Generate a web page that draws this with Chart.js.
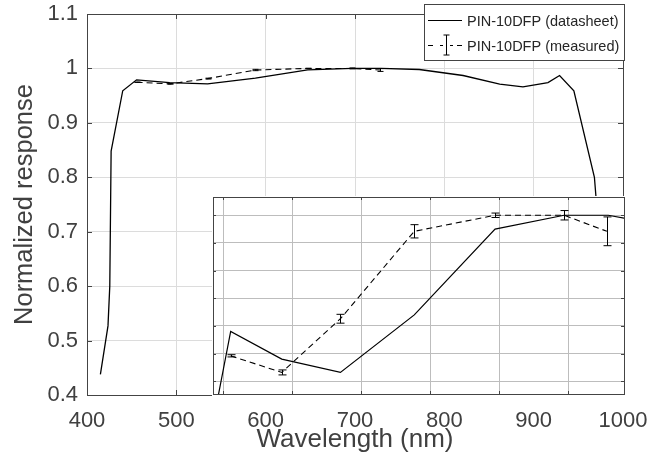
<!DOCTYPE html>
<html>
<head>
<meta charset="utf-8">
<script src="https://cdn.jsdelivr.net/npm/chart.js@4.4.1/dist/chart.umd.min.js"></script>
<style>
  body { margin: 0; background: #fff; }
  #wrap { position: relative; width: 672px; height: 463px; }
  #inset { position: absolute; left: 212px; top: 196px; width: 414px; height: 200px; background: #fff; }
</style>
</head>
<body>
<div id="wrap">
  <canvas id="mainChart" width="672" height="463"></canvas>
  <div id="inset"><canvas id="insetChart" width="414" height="200"></canvas></div>
</div>
<script>
// Datasheet response curve
const sheetWl = [415, 423.5, 425.5, 427, 440, 455.5, 492.5, 535, 588.5, 647, 697, 729, 772, 821, 862, 888, 916, 929, 945, 968, 985];
const sheetResp = [0.438, 0.527, 0.60, 0.848, 0.959, 0.979, 0.974, 0.9716, 0.982, 0.9975, 1.0, 1.0, 0.998, 0.987, 0.971, 0.966, 0.974, 0.987, 0.959, 0.80, 0.45];

// Measured points with error
const measWl = [455.5, 492.5, 535, 588.5, 647, 697, 728];
const measResp = [0.9746, 0.9716, 0.9813, 0.9971, 1.0, 1.0, 0.9971];
const measErr = [0.0002, 0.00045, 0.0008, 0.0012, 0.0004, 0.00085, 0.0026];

// Tick positions
const xTicks = [400, 500, 600, 700, 800, 900, 1000];
const yTicks = [0.4, 0.5, 0.6, 0.7, 0.8, 0.9, 1.0, 1.1];
const insetXTicks = [450, 500, 550, 600, 650, 700];
const insetYTicks = [0.97, 0.975, 0.98, 0.985, 0.99, 0.995, 1.0];

const legendLabels = ['PIN-10DFP (datasheet)', 'PIN-10DFP (measured)'];

const FONT = "'Liberation Sans', Arial, Helvetica, sans-serif";
const TEXT = '#404040';

const toPoints = (xs, ys) => xs.map((v, i) => ({x: v, y: ys[i]}));

// box around the axes plus inward tick marks
const boxPlugin = {
    id: 'box',
    afterDraw(chart, args, opts) {
        const {ctx, chartArea: a, scales} = chart;
        ctx.save();
        ctx.strokeStyle = opts.color;
        ctx.lineWidth = 1;
        const len = opts.tick;
        ctx.beginPath();
        opts.xTicks.forEach(v => {
            const px = Math.round(scales.x.getPixelForValue(v)) + 0.5;
            ctx.moveTo(px, a.bottom); ctx.lineTo(px, a.bottom - len);
            ctx.moveTo(px, a.top); ctx.lineTo(px, a.top + len);
        });
        opts.yTicks.forEach(v => {
            const py = Math.round(scales.y.getPixelForValue(v)) + 0.5;
            ctx.moveTo(a.left, py); ctx.lineTo(a.left + len, py);
            ctx.moveTo(a.right, py); ctx.lineTo(a.right - len, py);
        });
        ctx.stroke();
        ctx.strokeRect(Math.round(a.left) + 0.5, Math.round(a.top) + 0.5,
            Math.round(a.right - a.left), Math.round(a.bottom - a.top));
        ctx.restore();
    }
};

// vertical error bars with caps
const errorBarPlugin = {
    id: 'errorBars',
    afterDatasetsDraw(chart, args, opts) {
        const {ctx, chartArea: a, scales: {x, y}} = chart;
        chart.data.datasets.forEach(ds => {
            if (!ds.errors) return;
            ctx.save();
            ctx.beginPath();
            ctx.rect(a.left, a.top, a.right - a.left, a.bottom - a.top);
            ctx.clip();
            ctx.strokeStyle = '#000';
            ctx.lineWidth = 1;
            ds.data.forEach((p, i) => {
                const px = Math.round(x.getPixelForValue(p.x)) + 0.5;
                const top = y.getPixelForValue(p.y + ds.errors[i]);
                const bot = y.getPixelForValue(p.y - ds.errors[i]);
                const c = opts.cap / 2;
                ctx.beginPath();
                ctx.moveTo(px, top); ctx.lineTo(px, bot);
                ctx.moveTo(px - c, top); ctx.lineTo(px + c, top);
                ctx.moveTo(px - c, bot); ctx.lineTo(px + c, bot);
                ctx.stroke();
            });
            ctx.restore();
        });
    }
};

// boxed legend in the top right corner
const legendPlugin = {
    id: 'boxLegend',
    afterDraw(chart) {
        const ctx = chart.ctx;
        const bx = 424.5, by = 4.5, bw = 200, bh = 56;
        ctx.save();
        ctx.fillStyle = '#fff';
        ctx.fillRect(bx, by, bw, bh);
        ctx.strokeStyle = '#444';
        ctx.lineWidth = 1;
        ctx.strokeRect(bx, by, bw, bh);

        const rows = [20.5, 45.5];
        ctx.strokeStyle = '#000';
        // solid sample
        ctx.lineWidth = 1.2;
        ctx.beginPath();
        ctx.moveTo(428, rows[0]); ctx.lineTo(462, rows[0]);
        ctx.stroke();
        // dashed sample with error bar
        ctx.lineWidth = 1;
        ctx.beginPath();
        ctx.moveTo(428, rows[1]); ctx.lineTo(433, rows[1]);
        ctx.moveTo(440, rows[1]); ctx.lineTo(443, rows[1]);
        ctx.moveTo(450, rows[1]); ctx.lineTo(453, rows[1]);
        ctx.moveTo(457, rows[1]); ctx.lineTo(462, rows[1]);
        ctx.moveTo(446.5, 35); ctx.lineTo(446.5, 55);
        ctx.moveTo(443.5, 35); ctx.lineTo(449.5, 35);
        ctx.moveTo(443.5, 55); ctx.lineTo(449.5, 55);
        ctx.stroke();

        ctx.fillStyle = '#262626';
        ctx.font = '14.5px ' + FONT;
        ctx.textBaseline = 'middle';
        ctx.textAlign = 'left';
        legendLabels.forEach((t, i) => ctx.fillText(t, 467, rows[i] + 1));
        ctx.restore();
    }
};

new Chart(document.getElementById('mainChart'), {
    type: 'line',
    data: {
        datasets: [
            {
                label: legendLabels[0],
                data: toPoints(sheetWl, sheetResp),
                borderColor: '#000',
                borderWidth: 1.3,
                pointRadius: 0,
                tension: 0
            },
            {
                label: legendLabels[1],
                data: toPoints(measWl, measResp),
                errors: measErr,
                borderColor: '#000',
                borderWidth: 1.1,
                borderDash: [6, 4],
                pointRadius: 0,
                tension: 0
            }
        ]
    },
    options: {
        responsive: false,
        animation: false,
        devicePixelRatio: 1,
        layout: { padding: { top: 14, right: 49, left: 0, bottom: 0 } },
        plugins: {
            legend: { display: false },
            tooltip: { enabled: false },
            box: { color: '#444', tick: 5, xTicks: xTicks, yTicks: yTicks },
            errorBars: { cap: 6 }
        },
        scales: {
            x: {
                type: 'linear',
                min: 400,
                max: 1000,
                afterBuildTicks: s => { s.ticks = xTicks.map(v => ({value: v})); },
                afterFit: s => { s.height = 68; s.paddingLeft = 0; s.paddingRight = 0; },
                grid: { color: '#dcdcdc', drawTicks: false },
                border: { display: false },
                ticks: {
                    color: TEXT,
                    padding: 13,
                    maxRotation: 0,
                    font: { family: FONT, size: 22 },
                    callback: v => String(v)
                },
                title: {
                    display: true,
                    text: 'Wavelength (nm)',
                    color: TEXT,
                    font: { family: FONT, size: 26 },
                    padding: { top: 0, bottom: 8 }
                }
            },
            y: {
                min: 0.4,
                max: 1.1,
                afterBuildTicks: s => { s.ticks = yTicks.map(v => ({value: v})); },
                afterFit: s => { s.width = 87; s.paddingTop = 0; s.paddingBottom = 0; },
                grid: { color: '#dcdcdc', drawTicks: false },
                border: { display: false },
                ticks: {
                    color: TEXT,
                    padding: 9,
                    font: { family: FONT, size: 22 },
                    callback: v => String(Number(v.toFixed(1)))
                },
                title: {
                    display: true,
                    text: 'Normalized response',
                    color: TEXT,
                    font: { family: FONT, size: 25.5 },
                    padding: { top: 10, bottom: 0 }
                }
            }
        }
    },
    plugins: [errorBarPlugin, boxPlugin, legendPlugin]
});

// Inset: zoom on the measured range
new Chart(document.getElementById('insetChart'), {
    type: 'line',
    data: {
        datasets: [
            {
                data: toPoints(sheetWl, sheetResp),
                borderColor: '#000',
                borderWidth: 1.2,
                pointRadius: 0,
                tension: 0
            },
            {
                data: toPoints(measWl, measResp),
                errors: measErr,
                borderColor: '#000',
                borderWidth: 1.1,
                borderDash: [6, 4],
                pointRadius: 0,
                tension: 0
            }
        ]
    },
    options: {
        responsive: false,
        animation: false,
        devicePixelRatio: 1,
        layout: { padding: { top: 1, right: 2, left: 1, bottom: 2 } },
        plugins: {
            legend: { display: false },
            tooltip: { enabled: false },
            box: { color: '#444', tick: 3, xTicks: insetXTicks, yTicks: insetYTicks },
            errorBars: { cap: 8 }
        },
        scales: {
            x: {
                type: 'linear',
                min: 442.7,
                max: 740.4,
                afterBuildTicks: s => { s.ticks = insetXTicks.map(v => ({value: v})); },
                afterFit: s => { s.height = 0; s.paddingLeft = 0; s.paddingRight = 0; },
                grid: { color: '#bdbdbd', drawTicks: false },
                border: { display: false },
                ticks: { display: false }
            },
            y: {
                min: 0.9677,
                max: 1.0033,
                afterBuildTicks: s => { s.ticks = insetYTicks.map(v => ({value: v})); },
                afterFit: s => { s.width = 0; s.paddingTop = 0; s.paddingBottom = 0; },
                grid: { color: '#bdbdbd', drawTicks: false },
                border: { display: false },
                ticks: { display: false }
            }
        }
    },
    plugins: [errorBarPlugin, boxPlugin]
});
</script>
</body>
</html>
